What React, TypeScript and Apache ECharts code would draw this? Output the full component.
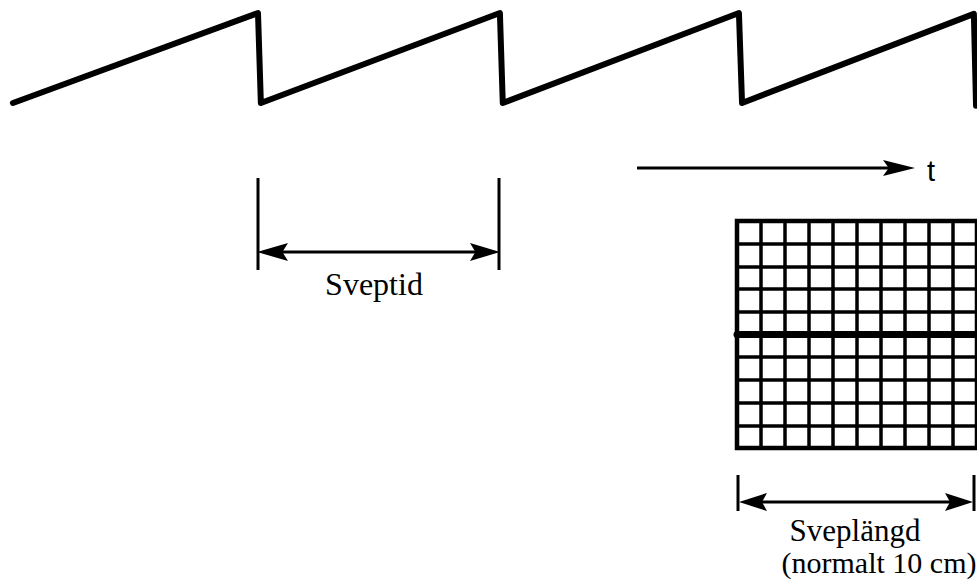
import React, { useEffect, useRef } from "react";
import * as echarts from "echarts";

// Sawtooth (sweep voltage): [time in sweep periods, relative level]
const sweepTimes = [-0.021, 1.0, 1.012, 2.008, 2.02, 3.004, 3.017, 3.983, 3.992];
const sweepLevels = [0.0, 1.0, 0.0, 1.0, 0.0, 1.0, 0.0, 0.99, -0.03];

// Oscilloscope screen divisions
const screenColumns = [0, 10];
const screenRows = [-5, 5];
const divisionStep = 1;

// Labels
const labelSweepTime = "Sveptid";
const labelTime = "t";
const labelSweepLength = "Sveplängd";
const labelSweepLengthNote = "(normalt 10 cm)";

const serif = '"Liberation Serif", "Times New Roman", serif';
const sans = '"Liberation Sans", Arial, sans-serif';

function line(x1: number, y1: number, x2: number, y2: number, w: number) {
  return {
    type: "line",
    shape: { x1, y1, x2, y2 },
    style: { stroke: "#000", lineWidth: w, lineCap: "butt" },
    silent: true,
  };
}

function head(tipX: number, y: number, dir: number, len: number, half: number) {
  const back = tipX - dir * len;
  const notch = tipX - dir * len * 0.82;
  return {
    type: "polygon",
    shape: {
      points: [
        [tipX, y],
        [back, y - half],
        [notch, y],
        [back, y + half],
      ],
    },
    style: { fill: "#000" },
    silent: true,
  };
}

function label(text: string, x: number, y: number, size: number, family: string) {
  return {
    type: "text",
    x,
    y,
    style: {
      text,
      font: `${size}px ${family}`,
      fill: "#000",
      align: "center",
      verticalAlign: "middle",
    },
    silent: true,
  };
}

export default function App() {
  const ref = useRef<HTMLDivElement>(null);

  useEffect(() => {
    if (!ref.current) return;
    const chart = echarts.init(ref.current, null, { renderer: "svg" });
    const saw = sweepTimes.map((t, i) => [t, sweepLevels[i]]);

    chart.setOption({
      animation: false,
      backgroundColor: "#fff",
      grid: [
        { left: 0, right: 0, top: 13, height: 90 },
        {
          left: 737,
          top: 221,
          width: 240,
          height: 227,
          show: true,
          borderColor: "#000",
          borderWidth: 4.5,
        },
      ],
      xAxis: [
        { type: "value", gridIndex: 0, min: -0.075, max: 3.996, show: false },
        {
          type: "value",
          gridIndex: 1,
          min: screenColumns[0],
          max: screenColumns[1],
          interval: divisionStep,
          axisLine: { show: true, onZero: true, lineStyle: { color: "#000", width: 7 } },
          axisTick: { show: false },
          axisLabel: { show: false },
          splitLine: { show: true, lineStyle: { color: "#000", width: 3.5 } },
        },
      ],
      yAxis: [
        { type: "value", gridIndex: 0, min: 0, max: 1, show: false },
        {
          type: "value",
          gridIndex: 1,
          min: screenRows[0],
          max: screenRows[1],
          interval: divisionStep,
          axisLine: { show: false },
          axisTick: { show: false },
          axisLabel: { show: false },
          splitLine: { show: true, lineStyle: { color: "#000", width: 3.5 } },
        },
      ],
      series: [
        {
          type: "line",
          xAxisIndex: 0,
          yAxisIndex: 0,
          data: saw,
          symbol: "none",
          clip: false,
          lineStyle: { color: "#000", width: 6, cap: "round", join: "round" },
        },
      ],
      graphic: [
        // Sveptid dimension
        line(258, 178, 258, 270, 3),
        line(499, 178, 499, 270, 3),
        line(270, 252, 487, 252, 3),
        head(257, 252, -1, 31, 9),
        head(500, 252, 1, 30, 9),
        label(labelSweepTime, 374, 284, 32, serif),
        // time arrow
        line(637, 168, 895, 168, 3),
        head(915, 168, 1, 32, 8),
        label(labelTime, 931, 171, 29, sans),
        // Sveplängd dimension
        line(738, 475, 738, 511, 3),
        line(974, 475, 974, 511, 3),
        line(750, 502, 962, 502, 3),
        head(739, 502, -1, 28, 9),
        head(973, 502, 1, 28, 9),
        label(labelSweepLength, 855, 530, 31, serif),
        label(labelSweepLengthNote, 879, 562, 30, serif),
      ],
    });

    return () => chart.dispose();
  }, []);

  return (
    <div
      ref={ref}
      style={{ position: "fixed", left: 0, top: 0, width: 977, height: 586 }}
    />
  );
}
